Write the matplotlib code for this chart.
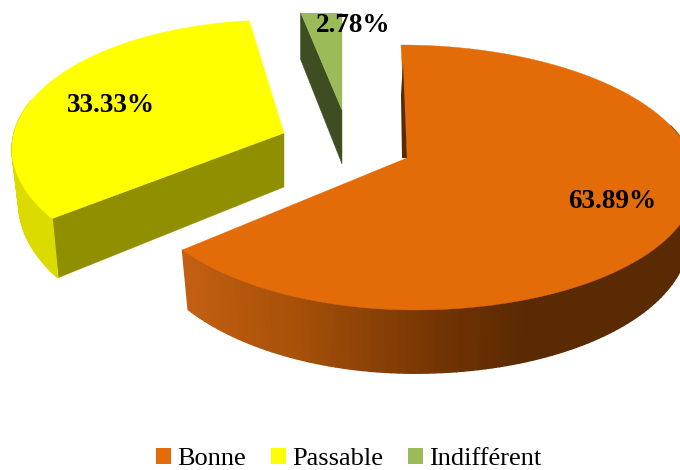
import numpy as np
import matplotlib
matplotlib.use('Agg')
import matplotlib.pyplot as plt
from matplotlib.patches import Polygon, Patch, Rectangle

labels = ['Bonne', 'Passable', 'Indifférent']
percents = [63.89, 33.33, 2.78]
colors = ['#E36C09', '#FFFF00', '#9BBB59']
radial_colors = ['#5A2A02', '#8F8F00', '#3F4D23']
apexes = [(407, 158), (284, 133), (342, 110)]
label_pos = [(611, 202), (110, 106), (352, 25)]

# per slice tweaks of the drawing: x scale left, x scale right, y scale, tilt, rotation
shapes = [(0.99, 1.04, 1.0, 6.9, 0), (0.985, 0.985, 1.0, 6.9, 3), (1.0, 1.0, 0.88, 0, 0)]

R = 274
RY = 129.6
K = 0.147
DEPTH = 54


def project(theta, apex, shape, bottom=False):
    # theta in degrees, clockwise from the top
    sx_l, sx_r, sy, tilt, rot = shape
    t = np.radians(theta + rot)
    u, v = np.sin(t), np.cos(t)
    s = 1 / (1 + K * v)
    xs = 0.975 if bottom else 1.0
    x = apex[0] + (R * u * np.where(u > 0, sx_r, sx_l) * xs - tilt * v) * s
    y = apex[1] - RY * sy * v * s
    if bottom:
        y = y + DEPTH * s
    return np.column_stack([x, y])


def side_color(x, kind):
    if kind == 0:
        r = np.interp(x, [182, 300, 450, 530], [0xC4, 0xA6, 0x70, 0x5A])
        g = np.interp(x, [182, 300, 450, 530], [0x60, 0x50, 0x33, 0x2A])
        b = np.interp(x, [182, 300, 450, 530], [0x12, 0x09, 0x03, 0x02])
        return (r / 255, g / 255, b / 255)
    return (0.86, 0.86, 0.0)


fig = plt.figure(figsize=(6.8, 4.7), dpi=100)
ax = fig.add_axes([0, 0, 1, 1])
ax.set_xlim(0, 680)
ax.set_ylim(470, 0)
ax.axis('off')

# cumulative angles from the values
total = sum(percents)
ends = np.cumsum(percents) / total * 360
starts = np.concatenate([[0], ends[:-1]])

# green, yellow then orange on top
for i in [2, 1, 0]:
    a0, a1 = starts[i], ends[i]
    apex = apexes[i]
    shape = shapes[i]
    arc = np.linspace(a0, a1, 200)
    top = project(arc, apex, shape)
    low_apex = (apex[0], apex[1] + DEPTH)
    clip = Rectangle((0, 13), 680, 457, transform=ax.transData)

    if i == 1:
        # front radial face of yellow
        p0 = project(a0, apex, shape)[0]
        p1 = project(a0, apex, shape, bottom=True)[0]
        ax.add_patch(Polygon([apex, p0, p1, low_apex], fc=radial_colors[i], ec=radial_colors[i], lw=0.3))
    if i == 2:
        p0 = project(a0, apex, shape)[0]
        p1 = project(a0, apex, shape, bottom=True)[0]
        p1[0] = p0[0]
        face = Polygon([apex, p0, p1, low_apex], fc=radial_colors[i], ec=radial_colors[i], lw=0.3)
        ax.add_patch(face)
        face.set_clip_path(clip)

    # outer wall, only the part turned towards the viewer
    lo = max(a0, 75)
    hi = min(a1, 282)
    if hi > lo:
        wall = np.linspace(lo, hi, 120)
        for w0, w1 in zip(wall[:-1], wall[1:]):
            pts = [project(w0, apex, shape)[0], project(w1, apex, shape)[0],
                   project(w1, apex, shape, bottom=True)[0], project(w0, apex, shape, bottom=True)[0]]
            c = side_color(pts[0][0], i)
            ax.add_patch(Polygon(pts, fc=c, ec=c, lw=1.0))

    top_patch = Polygon(np.vstack([[apex], top]), fc=colors[i], ec=colors[i], lw=0.3)
    ax.add_patch(top_patch)
    if i == 2:
        top_patch.set_clip_path(clip)
    if i == 0:
        # thin dark sliver on the starting edge
        rim = project(a0, apex, shape)[0]
        ax.add_patch(Polygon([apex, (rim[0] + 2, rim[1] + 17), (rim[0], rim[1] + 50), (apex[0] - 5, apex[1])],
                             fc=radial_colors[i], ec='none'))

for pct, pos in zip(percents, label_pos):
    ax.text(pos[0] + 1, pos[1], f'{pct:.2f}%', ha='center', va='center', fontsize=19.5,
            fontweight='bold', family='Liberation Serif', color='black')

handles = [Patch(fc=c, ec='none', label=l) for c, l in zip(colors, labels)]
ax.legend(handles=handles, ncol=3, loc='lower center', bbox_to_anchor=(0.513, -0.04), frameon=False,
          prop={'family': 'Liberation Serif', 'size': 19}, handlelength=0.55, handleheight=0.55,
          handletextpad=0.25, columnspacing=0.95, borderpad=0.2)

fig.savefig('out.png', dpi=100)
